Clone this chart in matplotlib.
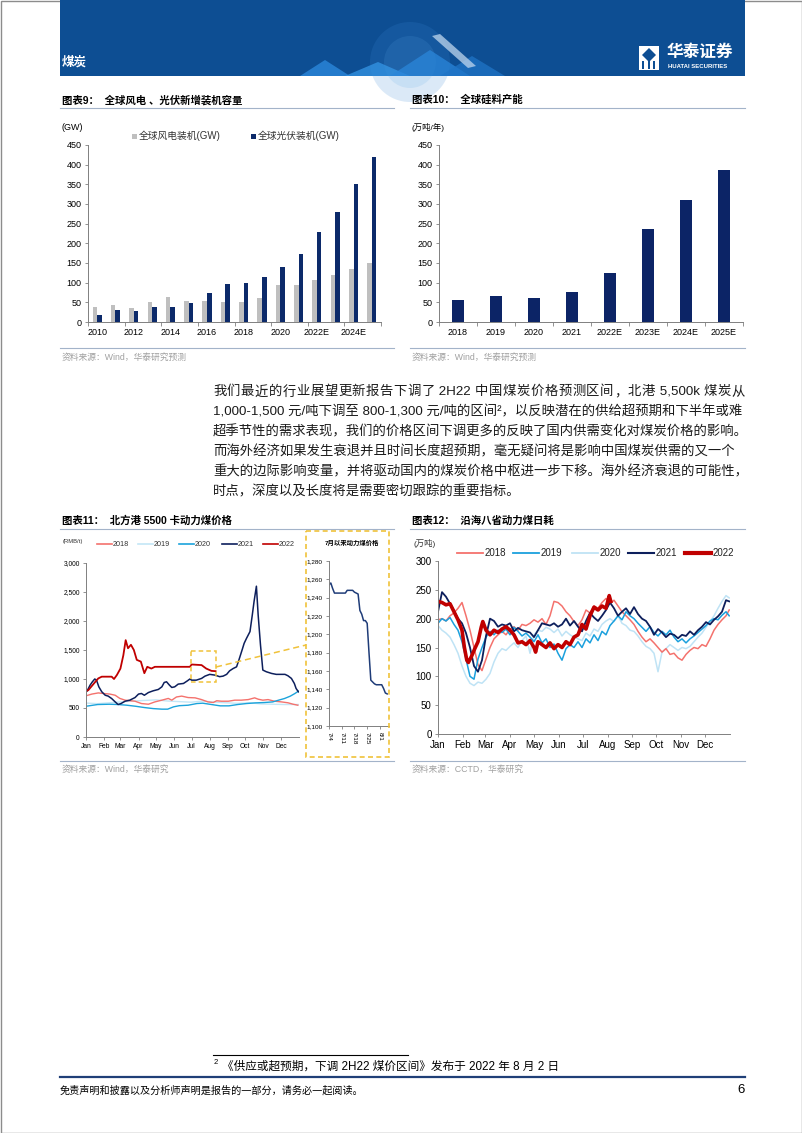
import matplotlib
matplotlib.use("Agg")
import matplotlib.pyplot as plt
from matplotlib.patches import Rectangle, Polygon, Circle
from matplotlib.lines import Line2D
from matplotlib.transforms import Affine2D
import numpy as np

W, H = 802, 1133
plt.rcParams['font.family'] = ['Liberation Sans', 'Noto Sans CJK SC']
plt.rcParams['axes.unicode_minus'] = False

# ---- chart 9: global wind / solar new installs (GW)
years9 = ['2010', '2011', '2012', '2013', '2014', '2015', '2016', '2017',
          '2018', '2019', '2020', '2021', '2022E', '2023E', '2024E', '2025E']
wind9 = [38, 44, 35, 51, 63, 54, 54, 52, 51, 60, 95, 93, 107, 119, 135, 150]
solar9 = [17, 30, 28, 37, 38, 48, 75, 97, 99, 114, 139, 174, 229, 280, 350, 420]

# ---- chart 10: global polysilicon capacity
years10 = ['2018', '2019', '2020', '2021', '2022E', '2023E', '2024E', '2025E']
silicon10 = [55, 67, 61, 76, 125, 237, 311, 387]

# ---- chart 11: northern port 5500 kcal thermal coal price (day of year, RMB/t)
months = ['Jan', 'Feb', 'Mar', 'Apr', 'May', 'Jun', 'Jul', 'Aug', 'Sep', 'Oct', 'Nov', 'Dec']
month_start = [0, 31, 59, 90, 120, 151, 181, 212, 243, 273, 304, 334]

p18_day = [0, 10, 21, 30, 41, 50, 58, 67, 84, 95, 107, 118, 130, 141, 147, 155, 164, 175,
           187, 198, 209, 218, 224, 232, 244, 255, 266, 278, 289, 295, 303, 312, 323, 335,
           346, 355, 363]
p18_val = [710, 740, 760, 750, 740, 720, 665, 635, 617, 577, 565, 605, 635, 665, 635, 690,
           705, 680, 675, 645, 605, 595, 625, 617, 617, 635, 635, 645, 675, 652, 635, 645,
           617, 605, 590, 565, 548]
p19_day = [0, 20, 40, 60, 80, 100, 120, 140, 160, 180, 200, 220, 240, 260, 280, 300, 320, 340, 364]
p19_val = [585, 575, 590, 605, 620, 630, 640, 620, 610, 600, 620, 600, 590, 580, 590, 570,
           565, 560, 560]
p20_day = [0, 20, 40, 55, 70, 85, 100, 115, 130, 140, 150, 160, 175, 190, 200, 215, 230,
           245, 260, 275, 290, 305, 320, 330, 340, 350, 358, 364]
p20_val = [530, 560, 565, 560, 548, 530, 508, 490, 480, 480, 520, 540, 548, 577, 583, 560,
           537, 537, 560, 577, 588, 594, 605, 635, 663, 704, 750, 790]
p21_day = [2, 7, 11, 15, 18, 22, 27, 33, 38, 44, 50, 55, 60, 67, 75, 84, 90, 95, 100, 107,
           115, 124, 130, 134, 138, 143, 147, 152, 158, 167, 174, 178, 181, 189, 198, 204,
           212, 221, 229, 235, 241, 246, 252, 258, 262, 268, 271, 275, 281, 285, 288, 292,
           295, 299, 303, 309, 318, 326, 341, 346, 352, 357, 360, 364]
p21_val = [796, 894, 952, 1000, 980, 865, 780, 720, 705, 663, 605, 560, 577, 617, 635, 680,
           740, 750, 720, 767, 796, 820, 865, 940, 952, 894, 854, 865, 912, 923, 970, 1000,
           980, 980, 1010, 1050, 1080, 1067, 1040, 1050, 1080, 1140, 1180, 1210, 1327, 1517,
           1615, 1700, 1817, 2106, 2337, 2600, 2106, 1587, 1154, 1125, 1096, 1080, 1080,
           1056, 1010, 923, 837, 779]
p22_day = [0, 4, 10, 15, 21, 27, 36, 44, 48, 53, 59, 64, 68, 72, 77, 82, 87, 94, 100, 105,
           112, 118, 178, 181, 198, 206, 215, 222]
p22_val = [790, 808, 880, 940, 1010, 1040, 1040, 1040, 1000, 1070, 1180, 1410, 1670, 1530,
           1590, 1500, 1330, 1300, 1100, 1210, 1180, 1210, 1210, 1250, 1240, 1180, 1140, 1135]

# inset: price since 7/4 (days after 7/4)
inset_day = list(range(33))
inset_val = [1254, 1256, 1250, 1245, 1245, 1245, 1245, 1245, 1245, 1245, 1248, 1248, 1248,
             1248, 1246, 1245, 1244, 1226, 1222, 1215, 1215, 1212, 1180, 1150, 1148, 1146,
             1145, 1145, 1145, 1145, 1141, 1136, 1135]
inset_ticks = ['7/4', '7/11', '7/18', '7/25', '8/1']

# ---- chart 12: coastal 8 provinces daily coal burn (10k t)
d12 = list(range(0, 365, 5)) + [364]
c18 = [198, 200, 196, 205, 210, 218, 228, 205, 180, 150, 120, 110, 130, 150, 165, 172, 178,
       172, 182, 186, 180, 190, 188, 192, 198, 194, 200, 190, 205, 230, 228, 222, 212, 205,
       195, 188, 198, 215, 210, 222, 218, 228, 235, 226, 232, 222, 212, 205, 198, 190, 178,
       168, 160, 165, 158, 150, 142, 148, 138, 140, 132, 128, 138, 145, 150, 148, 155, 152,
       165, 180, 190, 198, 205, 215]
c19 = [192, 200, 196, 202, 190, 180, 160, 130, 100, 95, 130, 150, 168, 178, 172, 180, 176,
       182, 172, 185, 178, 170, 175, 168, 160, 172, 158, 165, 150, 156, 140, 128, 148, 155,
       150, 160, 150, 165, 158, 172, 162, 178, 172, 188, 196, 205, 198, 212, 205, 200, 192,
       185, 178, 186, 176, 170, 178, 172, 180, 168, 160, 165, 158, 165, 170, 176, 182, 188,
       196, 200, 198, 206, 212, 205]
c20 = [188, 180, 175, 168, 155, 140, 118, 100, 88, 84, 90, 88, 95, 105, 125, 140, 148, 145,
       152, 158, 150, 162, 170, 140, 172, 180, 178, 185, 182, 176, 182, 170, 178, 172, 168,
       165, 162, 175, 170, 182, 178, 190, 196, 200, 195, 205, 192, 188, 180, 178, 170, 160,
       152, 148, 140, 108, 142, 148, 155, 150, 145, 150, 148, 152, 160, 168, 175, 185, 195,
       205, 218, 230, 240, 236]
c21 = [212, 246, 238, 226, 214, 200, 192, 175, 150, 118, 108, 128, 170, 200, 196, 186, 190,
       188, 192, 178, 184, 180, 178, 176, 168, 180, 192, 190, 188, 192, 186, 190, 200, 188,
       196, 186, 178, 196, 210, 202, 196, 205, 215, 228, 218, 205, 212, 218, 208, 220, 208,
       200, 196, 186, 172, 182, 176, 168, 174, 172, 166, 172, 170, 178, 172, 180, 186, 194,
       190, 198, 204, 212, 232, 230]
d22 = [0, 5, 10, 15, 20, 25, 30, 33, 36, 38, 42, 46, 50, 54, 56, 60, 65, 70, 75, 80, 85, 90,
       95, 100, 105, 110, 115, 120, 122, 125, 130, 135, 140, 145, 150, 155, 160, 165, 170,
       175, 180, 185, 190, 195, 200, 205, 210, 214, 216]
c22 = [230, 228, 224, 226, 212, 198, 180, 150, 128, 124, 135, 148, 160, 185, 195, 180, 172,
       180, 176, 182, 186, 180, 172, 158, 160, 155, 162, 150, 142, 160, 155, 150, 158, 148,
       155, 150, 160, 155, 168, 172, 190, 182, 205, 220, 215, 222, 218, 240, 230]

fig = plt.figure(figsize=(W / 100, H / 100), dpi=100)
pix = Affine2D().scale(1.0 / W, -1.0 / H).translate(0, 1) + fig.transFigure
renderer = fig.canvas.get_renderer()


def box(x0, y0, x1, y1):
    return [x0 / W, 1 - y1 / H, (x1 - x0) / W, (y1 - y0) / H]


def txt(x, y, s, **kw):
    kw.setdefault('va', 'center')
    return fig.text(x, y, s, transform=pix, **kw)


def seg(x0, y0, x1, y1, **kw):
    fig.add_artist(Line2D([x0, x1], [y0, y1], transform=pix, **kw))


def style(ax, fs):
    for s in ['top', 'right']:
        ax.spines[s].set_visible(False)
    for s in ['left', 'bottom']:
        ax.spines[s].set_color('#808080')
        ax.spines[s].set_linewidth(0.7)
    ax.tick_params(labelsize=fs, length=2.5, width=0.6, color='#808080', pad=2)
    ax.patch.set_alpha(0)


def justified(x0, x1, y, line, **kw):
    # split into CJK chars and latin runs (spaces kept), then spread the spare width
    tokens, cur = [], ''
    for ch in line:
        if ord(ch) < 0x2000:
            cur += ch
        else:
            if cur:
                tokens.append(cur)
                cur = ''
            tokens.append(ch)
    if cur:
        tokens.append(cur)
    widths = []
    for tk in tokens:
        t = fig.text(0, 0, tk.replace(' ', '\u00a0'), **kw)
        widths.append(t.get_window_extent(renderer).width)
        t.remove()
    gap = (x1 - x0 - sum(widths)) / (len(tokens) - 1)
    xx = x0
    for tk, w in zip(tokens, widths):
        txt(xx, y, tk.replace(' ', '\u00a0'), **kw)
        xx += w + gap


# ---- page frame and header
fig.add_artist(Rectangle((0.5, 0.5), 801, 1132, transform=pix, fill=False, ec='#8c8c8c', lw=1))
fig.add_artist(Rectangle((60, 0), 685, 76, transform=pix, fc='#0D4E93', ec='none'))
fig.add_artist(Circle((410, 62), 40, transform=pix, fc='#3A8AD6', ec='none', alpha=0.18))
fig.add_artist(Circle((410, 62), 26, transform=pix, fc='#5AA6E6', ec='none', alpha=0.15))
for pts, c in [([(300, 76), (325, 60), (350, 76)], '#2C8BE0'),
               ([(345, 76), (378, 62), (410, 76)], '#3596E6'),
               ([(390, 76), (430, 50), (470, 76)], '#2A86DA'),
               ([(440, 76), (472, 56), (505, 76)], '#1F74C6'),
               ([(432, 36), (440, 34), (476, 66), (468, 68)], '#BFD6EE')]:
    fig.add_artist(Polygon(pts, closed=True, transform=pix, fc=c, ec='none', alpha=0.75))
txt(62, 62, '煤炭', color='white', fontsize=9, fontweight='bold')
fig.add_artist(Rectangle((639, 46), 20, 24, transform=pix, fc='white', ec='none'))
fig.add_artist(Polygon([(649, 48), (656, 55), (649, 62), (642, 55)], closed=True,
                       transform=pix, fc='#0D4E93', ec='none'))
for bx in [642, 647.5, 653]:
    fig.add_artist(Rectangle((bx, 61), 2.2, 8, transform=pix, fc='#0D4E93', ec='none'))
txt(667, 52, '华泰证券', color='white', fontsize=12, fontweight='bold')
txt(668, 66, 'HUATAI SECURITIES', color='white', fontsize=4.3, fontweight='bold')

sep_c = '#A3B3C9'
src_c = '#A0A0A0'

# ---- chart 9
txt(62, 100, '图表9：  全球风电 、光伏新增装机容量', fontsize=7.5, fontweight='bold')
seg(60, 108, 394, 108, color=sep_c, lw=0.8)
ax9 = fig.add_axes(box(88, 145, 381, 322))
x9 = np.arange(len(years9))
ax9.bar(x9 - 0.125, wind9, width=0.25, color='#BFBFBF')
ax9.bar(x9 + 0.125, solar9, width=0.25, color='#0C2A6A')
ax9.set_xlim(-0.5, len(years9) - 0.5)
ax9.set_ylim(0, 450)
ax9.set_yticks(range(0, 451, 50))
ax9.set_xticks(x9[::2])
ax9.set_xticklabels(years9[::2])
ax9.set_xticks(np.arange(-0.5, len(years9), 2), minor=True)
style(ax9, 6.5)
ax9.tick_params(axis='x', which='major', length=0, pad=4)
ax9.tick_params(axis='x', which='minor', length=3, width=0.6, color='#808080')
txt(61, 127, '(GW)', fontsize=6.5)
fig.add_artist(Rectangle((132, 133.5), 4.5, 5, transform=pix, fc='#BFBFBF', ec='none'))
txt(139, 136, '全球风电装机(GW)', fontsize=7, color='#333333')
fig.add_artist(Rectangle((251, 133.5), 4.5, 5, transform=pix, fc='#0C2A6A', ec='none'))
txt(258, 136, '全球光伏装机(GW)', fontsize=7, color='#333333')
seg(60, 348, 394, 348, color=sep_c, lw=0.8)
txt(62, 357, '资料来源：Wind，华泰研究预测', fontsize=6.3, color=src_c)

# ---- chart 10
txt(412, 100, '图表10：  全球硅料产能', fontsize=7.5, fontweight='bold')
seg(410, 108, 745, 108, color=sep_c, lw=0.8)
ax10 = fig.add_axes(box(439, 145, 743, 322))
x10 = np.arange(len(years10))
ax10.bar(x10, silicon10, width=0.31, color='#0C2466')
ax10.set_xlim(-0.5, len(years10) - 0.5)
ax10.set_ylim(0, 450)
ax10.set_yticks(range(0, 451, 50))
ax10.set_xticks(x10)
ax10.set_xticklabels(years10)
ax10.set_xticks(np.arange(-0.5, len(years10), 1), minor=True)
style(ax10, 6.5)
ax10.tick_params(axis='x', which='major', length=0, pad=4)
ax10.tick_params(axis='x', which='minor', length=3, width=0.6, color='#808080')
txt(412, 127, '(万吨/年)', fontsize=6)
seg(410, 348, 745, 348, color=sep_c, lw=0.8)
txt(412, 357, '资料来源：Wind，华泰研究预测', fontsize=6.3, color=src_c)

# ---- paragraph
para = ['我们最近的行业展望更新报告下调了 2H22 中国煤炭价格预测区间，北港 5,500k 煤炭从',
        '1,000-1,500 元/吨下调至 800-1,300 元/吨的区间²，以反映潜在的供给超预期和下半年或难',
        '超季节性的需求表现，我们的价格区间下调更多的反映了国内供需变化对煤炭价格的影响。',
        '而海外经济如果发生衰退并且时间长度超预期，毫无疑问将是影响中国煤炭供需的又一个',
        '重大的边际影响变量，并将驱动国内的煤炭价格中枢进一步下移。海外经济衰退的可能性，',
        '时点，深度以及长度将是需要密切跟踪的重要指标。']
for i, line in enumerate(para):
    if i == 0:
        justified(213, 745, 392 + 20 * i, line, fontsize=9.6, color='#1a1a1a')
    else:
        txt(213, 392 + 20 * i, line, fontsize=9.6, color='#1a1a1a')

# ---- chart 11
txt(62, 521, '图表11：  北方港 5500 卡动力煤价格', fontsize=7.5, fontweight='bold')
seg(60, 529, 394, 529, color=sep_c, lw=0.8)
ax11 = fig.add_axes(box(86, 563, 299, 737))
c11 = {'2018': '#F4726D', '2019': '#C4E6F6', '2020': '#1BA3DB', '2021': '#0D1F5C', '2022': '#C00000'}
ax11.plot(p19_day, p19_val, color=c11['2019'], lw=1.0)
ax11.plot(p18_day, p18_val, color=c11['2018'], lw=1.0)
ax11.plot(p20_day, p20_val, color=c11['2020'], lw=1.0)
ax11.plot(p21_day, p21_val, color=c11['2021'], lw=1.1)
ax11.plot(p22_day, p22_val, color=c11['2022'], lw=1.3)
ax11.set_xlim(0, 365)
ax11.set_ylim(0, 3000)
ax11.set_yticks(range(0, 3001, 500))
ax11.set_yticklabels([f'{v:,}' for v in range(0, 3001, 500)])
ax11.set_xticks(month_start)
ax11.set_xticklabels(months)
style(ax11, 4.8)
txt(63, 541, '(RMB/t)', fontsize=4.2, color='#333333')
leg11 = [(97, '2018'), (138, '2019'), (179, '2020'), (222, '2021'), (263, '2022')]
for lx, name in leg11:
    seg(lx, 544, lx + 15, 544, color=c11[name], lw=1.2)
    txt(lx + 16, 544, name, fontsize=5.2, color='#333333')

yel = '#F0C23A'
fig.add_artist(Rectangle((191, 651), 25, 31, transform=pix, fill=False, ec=yel, lw=1.1, ls=(0, (3, 2))))
seg(216, 667, 306, 645, color=yel, lw=1.1, ls=(0, (4, 2.5)))
fig.add_artist(Rectangle((306, 531), 83, 226, transform=pix, fill=False, ec=yel, lw=1.2, ls=(0, (3, 2))))
txt(352, 543, '7月以来动力煤价格', fontsize=4.6, fontweight='bold', ha='center')
axin = fig.add_axes(box(329, 561, 389, 726))
axin.plot(inset_day, inset_val, color='#1F3C78', lw=1.1)
axin.set_xlim(0, 33)
axin.set_ylim(1100, 1280)
axin.set_yticks(range(1100, 1281, 20))
axin.set_yticklabels([f'{v:,}' for v in range(1100, 1281, 20)])
axin.set_xticks([0, 7, 14, 21, 28])
axin.set_xticklabels(inset_ticks, rotation=-90)
style(axin, 4.6)
seg(60, 761, 394, 761, color=sep_c, lw=0.8)
txt(62, 769, '资料来源：Wind，华泰研究', fontsize=6.3, color=src_c)

# ---- chart 12
txt(412, 521, '图表12：  沿海八省动力煤日耗', fontsize=7.5, fontweight='bold')
seg(410, 529, 745, 529, color=sep_c, lw=0.8)
ax12 = fig.add_axes(box(438, 561, 730, 734))
c12 = {'2018': '#F4726D', '2019': '#1BA0DD', '2020': '#BFE3F5', '2021': '#0D1F5C', '2022': '#C00000'}
ax12.plot(d12, c20, color=c12['2020'], lw=1.1)
ax12.plot(d12, c18, color=c12['2018'], lw=1.1)
ax12.plot(d12, c19, color=c12['2019'], lw=1.1)
ax12.plot(d12, c21, color=c12['2021'], lw=1.3)
ax12.plot(d22, c22, color=c12['2022'], lw=2.6)
ax12.set_xlim(0, 365)
ax12.set_ylim(0, 300)
ax12.set_yticks(range(0, 301, 50))
ax12.set_xticks(month_start)
ax12.set_xticklabels(months)
style(ax12, 7)
txt(414, 543, '(万吨)', fontsize=6, color='#333333')
leg12 = [(457, '2018', 1.3), (513, '2019', 1.3), (572, '2020', 1.3), (628, '2021', 1.5), (685, '2022', 3.0)]
for lx, name, lw in leg12:
    seg(lx, 553, lx + 26, 553, color=c12[name], lw=lw)
    txt(lx + 28, 553, name, fontsize=7, color='#222222')
seg(410, 761, 745, 761, color=sep_c, lw=0.8)
txt(412, 769, '资料来源：CCTD，华泰研究', fontsize=6.3, color=src_c)

# ---- footnote and footer
seg(213, 1055, 408, 1055, color='black', lw=0.8)
txt(214, 1063, '2', fontsize=5.5)
txt(222, 1067, '《供应或超预期，下调 2H22 煤价区间》发布于 2022 年 8 月 2 日', fontsize=8.4)
seg(60, 1077, 745, 1077, color='#1F3F77', lw=1.6)
txt(60, 1090, '免责声明和披露以及分析师声明是报告的一部分，请务必一起阅读。', fontsize=7.3, style='italic')
txt(745, 1090, '6', fontsize=9.5, ha='right')

fig.savefig('out.png', dpi=100)
